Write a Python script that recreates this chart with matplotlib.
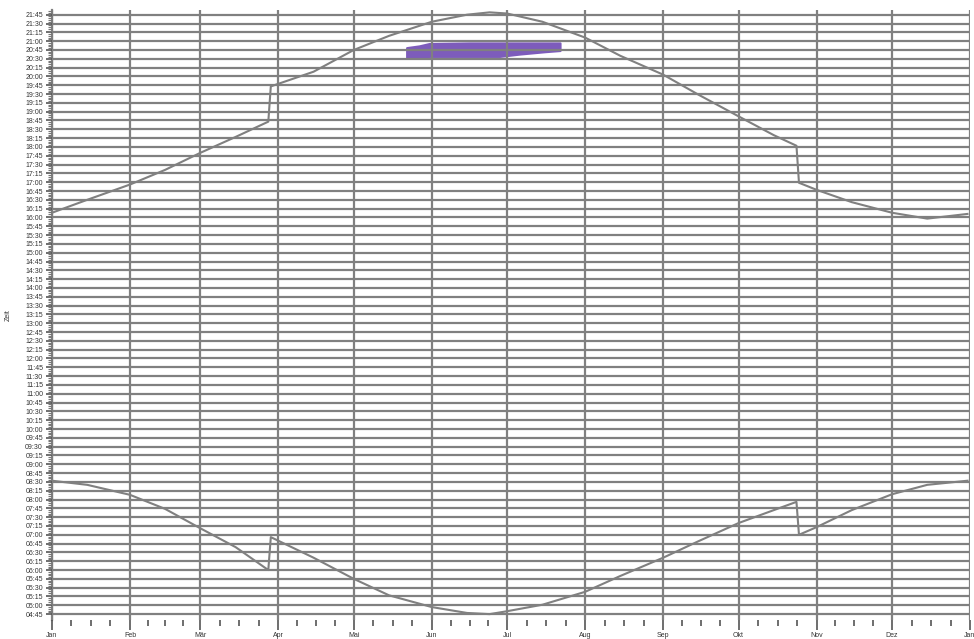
import datetime as dt
import matplotlib
matplotlib.use("Agg")
import matplotlib.pyplot as plt
import matplotlib.dates as mdates
from matplotlib.ticker import FixedLocator, FuncFormatter

YEAR = 2009

# ---- data ----
sunset_dates = ["01-01", "01-15", "02-01", "02-15", "03-01", "03-15", "03-28",
                "03-29", "04-15", "05-01", "05-15", "06-01", "06-15", "06-24",
                "07-01", "07-15", "08-01", "08-15", "09-01", "09-15", "10-01",
                "10-15", "10-24", "10-25", "11-01", "11-15", "12-01", "12-15",
                "12-31"]
sunset_times = ["16:08", "16:30", "16:56", "17:21", "17:50", "18:17", "18:43",
                "19:43", "20:08", "20:45", "21:09", "21:33", "21:45", "21:49",
                "21:47", "21:33", "21:06", "20:35", "20:03", "19:29", "18:52",
                "18:20", "18:02", "16:59", "16:47", "16:26", "16:08", "15:58",
                "16:06"]

sunrise_dates = sunset_dates
sunrise_times = ["08:32", "08:25", "08:08", "07:44", "07:11", "06:39", "06:00",
                 "06:56", "06:21", "05:45", "05:17", "04:57", "04:47", "04:45",
                 "04:50", "05:01", "05:23", "05:50", "06:21", "06:49", "07:20",
                 "07:42", "07:56", "07:00", "07:13", "07:42", "08:09", "08:25",
                 "08:32"]

band_dates = ["05-22", "05-27", "05-31", "06-16", "06-28", "07-06", "07-16", "07-22"]
band_upper = ["20:49", "20:52", "20:56", "20:57", "20:57", "20:57", "20:57", "20:57"]
band_lower = ["20:32", "20:32", "20:34", "20:34", "20:34", "20:38", "20:42", "20:44"]

month_labels = ["Jan", "Feb", "Mär", "Apr", "Mai", "Jun", "Jul", "Aug", "Sep",
                "Okt", "Nov", "Dez", "Jan"]
y_label = "Zeit"


def d(s):
    m, day = s.split("-")
    return mdates.date2num(dt.datetime(YEAR, int(m), int(day)))


def h(s):
    hh, mm = s.split(":")
    return int(hh) + int(mm) / 60.0


GRAY = "#808080"

fig = plt.figure(figsize=(9.74, 6.39), dpi=100)
ax = fig.add_axes([52 / 974, 1 - 620 / 639, (970 - 52) / 974, (620 - 10) / 639])

# band
ax.fill_between([d(s) for s in band_dates], [h(s) for s in band_lower],
                [h(s) for s in band_upper], color="#7d5cbb", linewidth=1.5,
                edgecolor="#7d5cbb", zorder=1)

# curves
ax.plot([d(s) for s in sunset_dates], [h(s) for s in sunset_times],
        color=GRAY, lw=1.5, zorder=3)
ax.plot([d(s) for s in sunrise_dates], [h(s) for s in sunrise_times],
        color=GRAY, lw=1.5, zorder=3)

# axes ranges
x0 = mdates.date2num(dt.datetime(YEAR, 1, 1))
x1 = mdates.date2num(dt.datetime(YEAR + 1, 1, 1))
ax.set_xlim(x0, x1)
ax.set_ylim(4 + 35 / 60, 21 + 53 / 60)

# x ticks
month_starts = [mdates.date2num(dt.datetime(YEAR + (m // 12), m % 12 + 1, 1))
                for m in range(13)]
ax.xaxis.set_major_locator(FixedLocator(month_starts))
ax.set_xticklabels(month_labels)
minor_x = []
for a, b in zip(month_starts[:-1], month_starts[1:]):
    for k in (1, 2, 3):
        minor_x.append(a + (b - a) * k / 4)
ax.xaxis.set_minor_locator(FixedLocator(minor_x))

# y ticks
major_y = [4.75 + 0.25 * i for i in range(69)]
ax.yaxis.set_major_locator(FixedLocator(major_y))
ax.yaxis.set_major_formatter(FuncFormatter(
    lambda v, p: "%02d:%02d" % (int(v + 1e-6), round((v - int(v + 1e-6)) * 60))))
ax.yaxis.set_minor_locator(FixedLocator(
    [4.75 + 0.05 * i for i in range(69 * 5) if i % 5 != 0]))

ax.tick_params(axis="both", which="major", labelsize=5, colors="#555555",
               labelcolor="#333333", width=1.2)
ax.tick_params(axis="y", which="major", length=4.5, pad=2)
ax.tick_params(axis="y", which="minor", length=3, width=0.8, colors="#777777")
ax.tick_params(axis="x", which="major", length=7, pad=1.5)
ax.tick_params(axis="x", which="minor", length=4.5, width=1.2, colors="#555555")

for lbl in ax.get_xticklabels() + ax.get_yticklabels():
    lbl.set_fontfamily("Liberation Sans")

# grid
ax.grid(True, which="major", axis="both", color=GRAY, lw=1.6, zorder=2)
ax.set_axisbelow(False)

for side in ("top", "right", "bottom"):
    ax.spines[side].set_visible(False)
ax.spines["left"].set_color(GRAY)
ax.spines["left"].set_linewidth(1.6)

fig.text(8 / 974, 1 - 315 / 639, y_label, rotation=90, fontsize=5,
         ha="center", va="center", color="#333333", family="Liberation Sans")

fig.savefig("out.png", dpi=100)
